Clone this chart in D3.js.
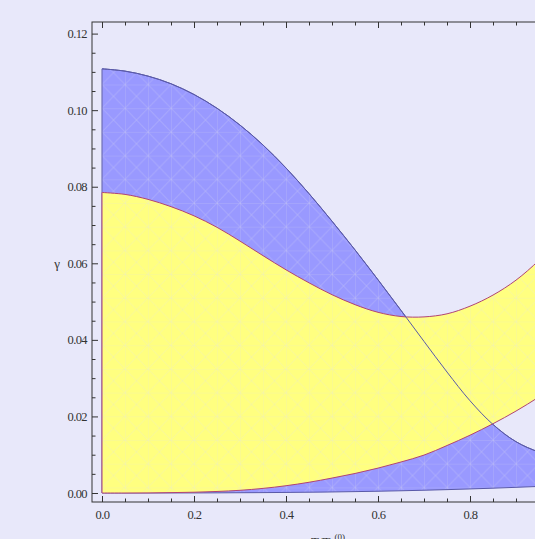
<!DOCTYPE html>
<html><head><meta charset="utf-8">
<script src="https://cdn.jsdelivr.net/npm/d3@7"></script>
<style>
html,body{margin:0;padding:0;background:#e8e8fa;}
svg{display:block;}
</style>
</head><body>
<svg id="c" width="535" height="539"></svg>
<script>
// ---- data ----
const xs         = [0,0.05,0.10,0.15,0.20,0.25,0.30,0.35,0.40,0.45,0.50,0.55,0.60,0.65,0.70,0.75,0.80,0.85,0.90,0.95,1.00];
const blueUpper  = [0.1108,0.1102,0.1089,0.1069,0.1041,0.1005,0.0961,0.0909,0.0849,0.0782,0.0710,0.0635,0.0557,0.0477,0.0396,0.0316,0.0241,0.0179,0.0134,0.0107,0.0092];
const blueLower  = [0,0,0,0.00001,0.00002,0.00004,0.00007,0.0001,0.00015,0.0002,0.00027,0.00036,0.00046,0.00058,0.00072,0.00088,0.00106,0.00126,0.00148,0.00172,0.0020];
const yellowUpper= [0.0785,0.0780,0.0767,0.0748,0.0724,0.0694,0.0658,0.0620,0.0583,0.0549,0.0518,0.0492,0.0472,0.0461,0.0460,0.0468,0.0488,0.0517,0.0556,0.0608,0.0672];
const yellowLower= [0,0,0.00003,0.0001,0.0002,0.0004,0.0007,0.0012,0.0019,0.0028,0.0039,0.0051,0.0065,0.0081,0.0099,0.0124,0.0151,0.0181,0.0214,0.0251,0.0292];

const xTicks      = [0,0.2,0.4,0.6,0.8,1.0];
const xTickLabels = ["0.0","0.2","0.4","0.6","0.8","1.0"];
const yTicks      = [0,0.02,0.04,0.06,0.08,0.10,0.12];
const yTickLabels = ["0.00","0.02","0.04","0.06","0.08","0.10","0.12"];
const xMinor = d3.range(0,1.0001,0.05).map(v=>+v.toFixed(2));
const yMinor = d3.range(0,0.12001,0.005).map(v=>+v.toFixed(3));

// ---- layout ----
const FONT = "'Liberation Serif','Times New Roman',Times,serif";
const svg = d3.select("#c");
const F = {l:92, r:572, t:22, b:502};
const x = d3.scaleLinear().domain([0,1]).range([102,562]);
const y = d3.scaleLinear().domain([0,0.12]).range([493,33.6]);

svg.append("rect").attr("width",535).attr("height",539).attr("fill","#e8e8fa");

const defs = svg.append("defs");
defs.append("clipPath").attr("id","clip").append("rect")
  .attr("x",F.l).attr("y",F.t).attr("width",F.r-F.l).attr("height",F.b-F.t);
const pat = defs.append("pattern").attr("id","mesh").attr("patternUnits","userSpaceOnUse")
  .attr("x",102).attr("y",203).attr("width",23).attr("height",23.7);
[[0,0,23,0],[0,0,0,23.7],[0,0,23,23.7],[23,0,0,23.7]].forEach((l,i)=>{
  pat.append("line").attr("x1",l[0]).attr("y1",l[1]).attr("x2",l[2]).attr("y2",l[3])
    .attr("stroke","#e0e0ee").attr("stroke-width",1).attr("stroke-opacity",i<2?0.3:0.2);
});

const blueData = xs.map((v,i)=>({x:v, lo:blueLower[i], hi:blueUpper[i]}));
const yellowData = xs.map((v,i)=>({x:v, lo:yellowLower[i], hi:yellowUpper[i]}));
const curve = d3.curveCatmullRom.alpha(0.5);
const area = d3.area().x(d=>x(d.x)).y0(d=>y(d.lo)).y1(d=>y(d.hi)).curve(curve);
const upperLine = d3.line().x(d=>x(d.x)).y(d=>y(d.hi)).curve(curve);

const g = svg.append("g").attr("clip-path","url(#clip)");
g.append("path").attr("d",area(blueData)).attr("fill","#9999ff");
g.append("path").attr("d",area(blueData)).attr("fill","url(#mesh)");
g.append("path").attr("d",area(blueData)).attr("fill","none").attr("stroke","#5a5aa8").attr("stroke-width",1);
g.append("path").attr("d",area(yellowData)).attr("fill","#ffff80");
g.append("path").attr("d",area(yellowData)).attr("fill","url(#mesh)");
g.append("path").attr("d",area(yellowData)).attr("fill","none").attr("stroke","#b04474").attr("stroke-width",1);
g.append("path").attr("d",upperLine(blueData)).attr("fill","none").attr("stroke","#5a5aa8").attr("stroke-width",1);

// ---- frame and axes ----
const axColor = "#333";
function style(sel){
  sel.select(".domain").remove();
  sel.selectAll("line").attr("stroke",axColor);
  sel.selectAll("text").attr("fill","#333").attr("font-family",FONT)
     .attr("font-size",12.5).attr("letter-spacing","-0.6px");
}
// bottom
svg.append("g").attr("transform",`translate(0,${F.b})`)
  .call(d3.axisBottom(x).tickValues(xTicks).tickFormat((d,i)=>xTickLabels[i]).tickSizeInner(-6).tickSizeOuter(0).tickPadding(8)).call(style);
svg.append("g").attr("transform",`translate(0,${F.b})`)
  .call(d3.axisBottom(x).tickValues(xMinor.filter(v=>!xTicks.includes(v))).tickFormat("").tickSizeInner(-3.5).tickSizeOuter(0)).call(style);
// top
svg.append("g").attr("transform",`translate(0,${F.t})`)
  .call(d3.axisTop(x).tickValues(xTicks).tickFormat("").tickSizeInner(-6).tickSizeOuter(0)).call(style);
svg.append("g").attr("transform",`translate(0,${F.t})`)
  .call(d3.axisTop(x).tickValues(xMinor.filter(v=>!xTicks.includes(v))).tickFormat("").tickSizeInner(-3.5).tickSizeOuter(0)).call(style);
// left
svg.append("g").attr("transform",`translate(${F.l},0)`)
  .call(d3.axisLeft(y).tickValues(yTicks).tickFormat((d,i)=>yTickLabels[i]).tickSizeInner(-6).tickSizeOuter(0).tickPadding(5)).call(style);
svg.append("g").attr("transform",`translate(${F.l},0)`)
  .call(d3.axisLeft(y).tickValues(yMinor.filter(v=>!yTicks.some(t=>Math.abs(t-v)<1e-9))).tickFormat("").tickSizeInner(-3.5).tickSizeOuter(0)).call(style);
// right
svg.append("g").attr("transform",`translate(${F.r},0)`)
  .call(d3.axisRight(y).tickValues(yTicks).tickFormat("").tickSizeInner(-6).tickSizeOuter(0)).call(style);

svg.append("rect").attr("x",F.l).attr("y",F.t).attr("width",F.r-F.l).attr("height",F.b-F.t)
  .attr("fill","none").attr("stroke",axColor).attr("stroke-width",1);

// axis labels
svg.append("text").attr("x",57).attr("y",268).attr("text-anchor","middle")
  .attr("font-family",FONT).attr("font-size",13).attr("fill","#333").text("γ");
const xl = svg.append("text").attr("x",311).attr("y",545.5)
  .attr("font-family",FONT).attr("font-size",13).attr("fill","#333");
xl.append("tspan").text("T/T");
xl.append("tspan").attr("font-size",9).attr("dy",2.5).text("c");
xl.append("tspan").attr("font-size",9).attr("dy",-8).text("(0)");
</script>
</body></html>
